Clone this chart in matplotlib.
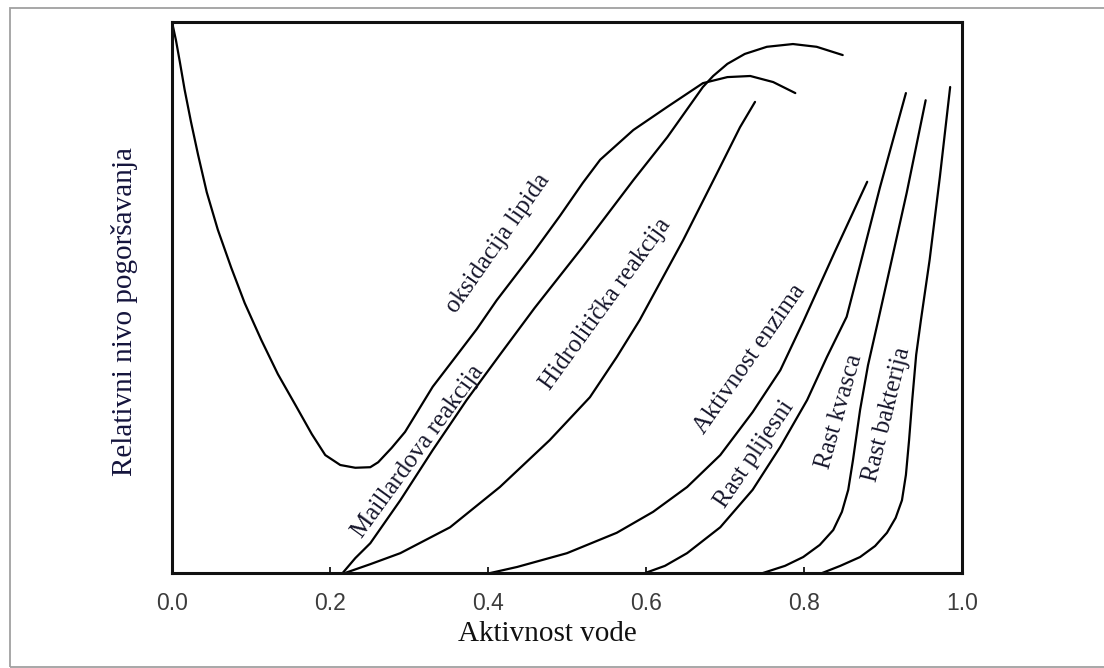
import numpy as np
import matplotlib
matplotlib.use('Agg')
import matplotlib.pyplot as plt
from matplotlib.patches import Rectangle

# values (x = aktivnost vode, y = relativni nivo 0..1)
lipid_x = [0.000, 0.005, 0.010, 0.016, 0.024, 0.033, 0.044, 0.058, 0.075, 0.092, 0.113,
           0.134, 0.157, 0.177, 0.194, 0.213, 0.232, 0.251, 0.261, 0.278, 0.295, 0.330,
           0.361, 0.386, 0.411, 0.457, 0.491, 0.520, 0.542, 0.584, 0.627, 0.672, 0.703,
           0.732, 0.761, 0.789]
lipid_y = [1.000, 0.967, 0.927, 0.877, 0.819, 0.759, 0.691, 0.623, 0.554, 0.490, 0.423,
           0.361, 0.303, 0.252, 0.214, 0.196, 0.191, 0.192, 0.201, 0.227, 0.256, 0.338,
           0.396, 0.443, 0.495, 0.581, 0.648, 0.708, 0.750, 0.804, 0.846, 0.889, 0.900,
           0.902, 0.891, 0.871]

maillard_x = [0.216, 0.232, 0.251, 0.289, 0.330, 0.373, 0.415, 0.459, 0.520, 0.584, 0.627,
              0.672, 0.685, 0.703, 0.725, 0.753, 0.786, 0.816, 0.849]
maillard_y = [0.000, 0.027, 0.054, 0.132, 0.223, 0.314, 0.396, 0.481, 0.592, 0.713, 0.791,
              0.882, 0.902, 0.924, 0.942, 0.955, 0.960, 0.955, 0.940]

hidro_x = [0.219, 0.251, 0.289, 0.352, 0.415, 0.478, 0.529, 0.563, 0.592, 0.647, 0.690, 0.719, 0.738]
hidro_y = [0.000, 0.016, 0.036, 0.083, 0.156, 0.241, 0.319, 0.392, 0.459, 0.604, 0.726, 0.809, 0.855]

enzim_x = [0.403, 0.437, 0.500, 0.563, 0.609, 0.652, 0.694, 0.735, 0.770, 0.799, 0.839, 0.880]
enzim_y = [0.000, 0.011, 0.036, 0.073, 0.111, 0.156, 0.214, 0.292, 0.368, 0.456, 0.583, 0.710]

plijesni_x = [0.599, 0.624, 0.652, 0.694, 0.735, 0.770, 0.804, 0.829, 0.854, 0.871, 0.896, 0.929]
plijesni_y = [0.000, 0.013, 0.036, 0.083, 0.151, 0.229, 0.314, 0.392, 0.465, 0.559, 0.699, 0.871]

kvasci_x = [0.748, 0.776, 0.799, 0.820, 0.837, 0.848, 0.856, 0.862, 0.871, 0.881, 0.894, 0.909, 0.930, 0.954]
kvasci_y = [0.000, 0.013, 0.029, 0.051, 0.078, 0.111, 0.151, 0.205, 0.296, 0.377, 0.459, 0.555, 0.690, 0.858]

bakt_x = [0.823, 0.846, 0.871, 0.890, 0.905, 0.916, 0.924, 0.929, 0.933, 0.937, 0.942, 0.948,
          0.959, 0.972, 0.985]
bakt_y = [0.000, 0.013, 0.029, 0.049, 0.073, 0.100, 0.132, 0.178, 0.241, 0.314, 0.396, 0.459,
          0.568, 0.719, 0.882]

xticks = [0.0, 0.2, 0.4, 0.6, 0.8, 1.0]
xtick_labels = ['0.0', '0.2', '0.4', '0.6', '0.8', '1.0']

# curve labels: text, x, y, angle
labels = [
    ('oksidacija lipida', 0.413, 0.599, 55),
    ('Maillardova reakcija', 0.312, 0.221, 54),
    ('Hidrolitička reakcija', 0.549, 0.488, 54),
    ('Aktivnost enzima', 0.731, 0.388, 55),
    ('Rast plijesni', 0.737, 0.216, 56),
    ('Rast kvasca', 0.845, 0.293, 74),
    ('Rast bakterija', 0.905, 0.288, 76),
]

W, H = 1104, 668
fig = plt.figure(figsize=(W / 100, H / 100), dpi=100)
fig.patch.set_facecolor('white')

# grey frame around the picture
fig.patches.append(Rectangle((9.5 / W, 1 / H), 1.2, (660 - 1) / H, transform=fig.transFigure,
                             fill=False, edgecolor='#a0a0a0', lw=1.3))

ax = fig.add_axes([172 / W, 95 / H, 790 / W, 551 / H])

for xs, ys in [(lipid_x, lipid_y), (maillard_x, maillard_y), (hidro_x, hidro_y),
               (enzim_x, enzim_y), (plijesni_x, plijesni_y), (kvasci_x, kvasci_y),
               (bakt_x, bakt_y)]:
    ax.plot(xs, ys, color='black', lw=1.6, solid_joinstyle='round', solid_capstyle='round')

ax.set_xlim(0, 1)
ax.set_ylim(0, 1)
ax.set_yticks([])
ax.set_xticks(xticks)
ax.set_xticklabels(xtick_labels, family='Liberation Sans')
ax.tick_params(axis='x', direction='in', length=4, width=1.2, pad=14,
               labelsize=16.5, labelcolor='#3c3c3c')
for s in ax.spines.values():
    s.set_linewidth(2.2)
    s.set_color('#111111')

for txt, x, y, rot in labels:
    ax.text(x, y, txt, rotation=rot, rotation_mode='anchor', ha='center', va='center',
            fontsize=18, family='Liberation Serif', color='#15152a')

fig.text(547 / W, 1 - 634 / H, 'Aktivnost vode', ha='center', va='center',
         fontsize=21, family='Liberation Serif', color='#111111')
fig.text(124 / W, 1 - 312 / H, 'Relativni nivo pogoršavanja', rotation=90, ha='center',
         va='center', fontsize=21, family='Liberation Serif', color='#14143c')

fig.savefig('out.png', dpi=100)
